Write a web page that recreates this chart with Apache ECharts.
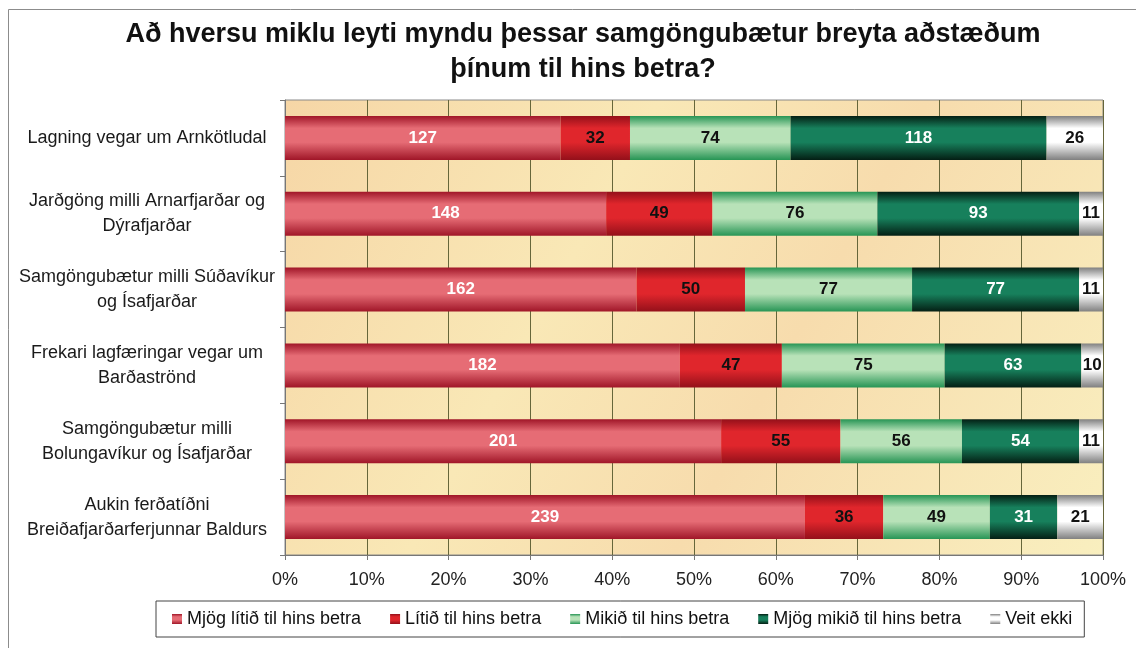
<!DOCTYPE html>
<html>
<head>
<meta charset="utf-8">
<title>Samgöngubætur</title>
<script src="https://cdn.jsdelivr.net/npm/echarts@6/dist/echarts.min.js"></script>
<style>
  html, body { margin: 0; padding: 0; background: #fff; }
  #chart { width: 1136px; height: 648px; }
</style>
</head>
<body>
<div id="chart"></div>
<script>
// flokkar (efst til neðst)
const categories = [
  'Lagning vegar um Arnkötludal',
  'Jarðgöng milli Arnarfjarðar og\nDýrafjarðar',
  'Samgöngubætur milli Súðavíkur\nog Ísafjarðar',
  'Frekari lagfæringar vegar um\nBarðaströnd',
  'Samgöngubætur milli\nBolungavíkur og Ísafjarðar',
  'Aukin ferðatíðni\nBreiðafjarðarferjunnar Baldurs'
]
const seriesNames = [
  'Mjög lítið til hins betra',
  'Lítið til hins betra',
  'Mikið til hins betra',
  'Mjög mikið til hins betra',
  'Veit ekki'
]
// fjöldi svara
const mjogLitid = [127, 148, 162, 182, 201, 239]
const litid = [32, 49, 50, 47, 55, 36]
const mikid = [74, 76, 77, 75, 56, 49]
const mjogMikid = [118, 93, 77, 63, 54, 31]
const veitEkki = [26, 11, 11, 10, 11, 21]
const xTicks = ['0%', '10%', '20%', '30%', '40%', '50%', '60%', '70%', '80%', '90%', '100%']

const counts = [mjogLitid, litid, mikid, mjogMikid, veitEkki]
const totals = categories.map((c, i) => counts.reduce((s, arr) => s + arr[i], 0))

// dökkt / ljóst fyrir "sívalnings" skyggingu
const shades = [
  ['#a01628', '#e66c75'],
  ['#94101a', '#e0262c'],
  ['#279555', '#b8e2b8'],
  ['#041f14', '#17805c'],
  ['#808080', '#ffffff']
]
const labelColors = ['#fff', '#111', '#111', '#fff', '#111']

const barGrad = (dark, light) => new echarts.graphic.LinearGradient(0, 0, 0, 1, [
  { offset: 0, color: dark },
  { offset: 0.28, color: light },
  { offset: 0.6, color: light },
  { offset: 1, color: dark }
])

const chart = echarts.init(document.getElementById('chart'))

const series = seriesNames.map((name, k) => ({
  name: name,
  type: 'bar',
  stack: 'all',
  barWidth: '58%',
  data: counts[k].map((v, i) => ({ value: v / totals[i] * 100, raw: v })),
  itemStyle: { color: barGrad(shades[k][0], shades[k][1]) },
  label: {
    show: true,
    position: 'inside',
    color: labelColors[k],
    fontWeight: 'bold',
    fontSize: 17,
    fontFamily: 'Liberation Sans, Arial',
    formatter: p => p.data.raw
  }
}))

const option = {
  animation: false,
  backgroundColor: '#fff',
  graphic: [{
    type: 'rect',
    shape: { x: 8.5, y: 9.5, width: 1140, height: 660 },
    style: { fill: 'none', stroke: '#8c8c8c', lineWidth: 1 },
    silent: true
  }],
  title: {
    text: 'Að hversu miklu leyti myndu þessar samgöngubætur breyta aðstæðum\nþínum til hins betra?',
    left: 578,
    textAlign: 'center',
    top: 12,
    textStyle: {
      fontFamily: 'Liberation Sans, Arial',
      fontWeight: 'bold',
      fontSize: 27,
      lineHeight: 35,
      color: '#111'
    }
  },
  legend: {
    data: seriesNames,
    left: 156,
    top: 601,
    itemWidth: 10,
    itemHeight: 10,
    itemGap: 29,
    padding: [9, 12, 9, 16],
    borderColor: '#444',
    borderWidth: 1,
    icon: 'rect',
    textStyle: { fontFamily: 'Liberation Sans, Arial', fontSize: 18, color: '#111' }
  },
  grid: {
    left: 285,
    right: 33,
    top: 100,
    bottom: 93,
    show: true,
    borderColor: '#8a8a8a',
    borderWidth: 1,
    backgroundColor: new echarts.graphic.LinearGradient(0, 0, 1, 1, [
      { offset: 0, color: '#f6d6a6' },
      { offset: 0.35, color: '#f9e8b6' },
      { offset: 0.6, color: '#f7dcad' },
      { offset: 1, color: '#f9efbf' }
    ])
  },
  xAxis: {
    type: 'value',
    min: 0,
    max: 100,
    interval: 10,
    axisLine: { show: true, lineStyle: { color: '#777' } },
    axisTick: { show: true, length: 5, lineStyle: { color: '#777' } },
    axisLabel: {
      margin: 16,
      fontSize: 18,
      color: '#222',
      fontFamily: 'Liberation Sans, Arial',
      formatter: v => xTicks[Math.round(v / 10)]
    },
    splitLine: { show: true, lineStyle: { color: '#66663a', width: 1 } }
  },
  yAxis: {
    type: 'category',
    inverse: true,
    data: categories,
    axisLine: { show: true, lineStyle: { color: '#777' } },
    axisTick: { show: true, length: 5, lineStyle: { color: '#777' } },
    axisLabel: {
      margin: 12,
      formatter: v => '{c|' + v + '}',
      rich: {
        c: {
          width: 252,
          align: 'center',
          fontSize: 18,
          lineHeight: 25,
          color: '#1a1a1a',
          fontFamily: 'Liberation Sans, Arial'
        }
      }
    }
  },
  series: series
}

chart.setOption(option)
window.addEventListener('resize', () => chart.resize())
</script>
</body>
</html>
